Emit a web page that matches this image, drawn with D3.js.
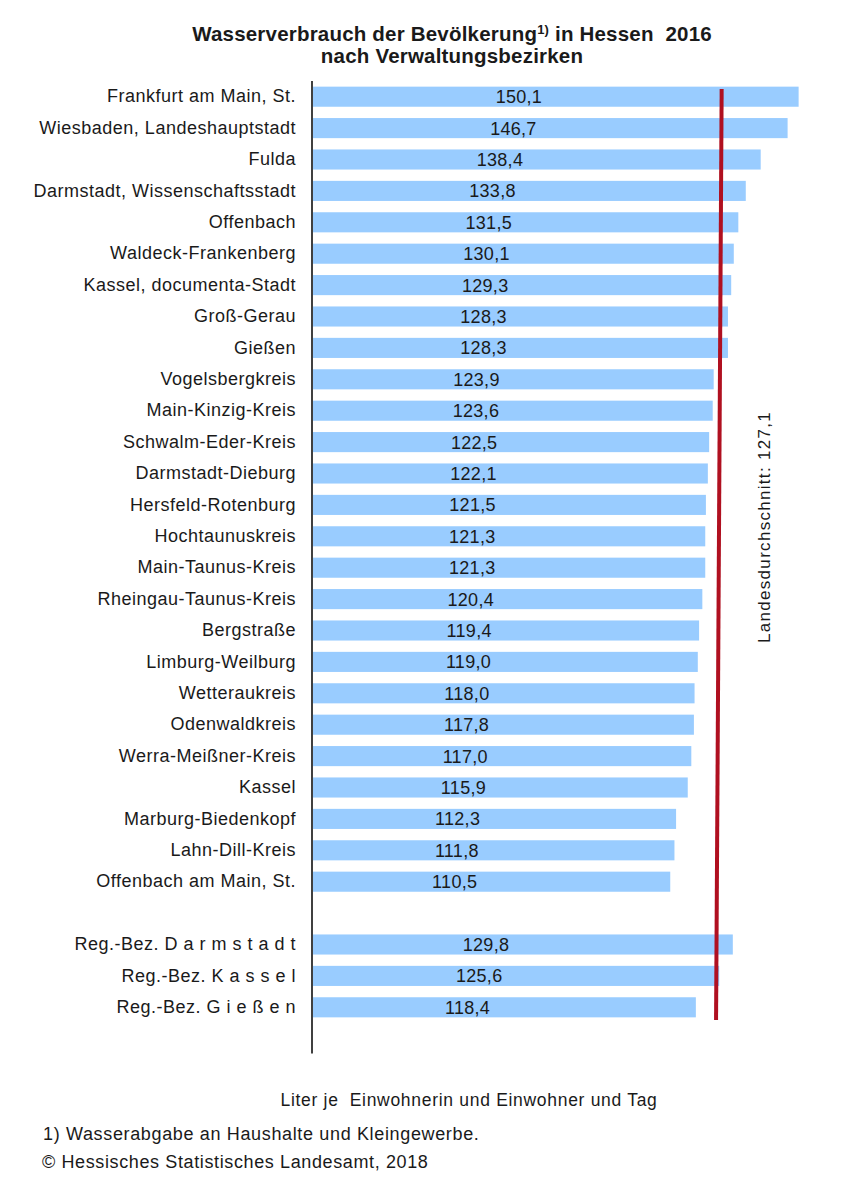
<!DOCTYPE html>
<html><head><meta charset="utf-8">
<script src="https://cdn.jsdelivr.net/npm/d3@7"></script>
<style>
html,body{margin:0;padding:0;background:#fff;}
svg{display:block;font-family:"Liberation Sans",Arial,sans-serif;}
svg text{white-space:pre;}
</style></head>
<body>
<svg id="chart" width="842" height="1200"></svg>
<script>
const districts = ["Frankfurt am Main, St.","Wiesbaden, Landeshauptstadt","Fulda","Darmstadt, Wissenschaftsstadt","Offenbach","Waldeck-Frankenberg","Kassel, documenta-Stadt","Groß-Gerau","Gießen","Vogelsbergkreis","Main-Kinzig-Kreis","Schwalm-Eder-Kreis","Darmstadt-Dieburg","Hersfeld-Rotenburg","Hochtaunuskreis","Main-Taunus-Kreis","Rheingau-Taunus-Kreis","Bergstraße","Limburg-Weilburg","Wetteraukreis","Odenwaldkreis","Werra-Meißner-Kreis","Kassel","Marburg-Biedenkopf","Lahn-Dill-Kreis","Offenbach am Main, St."];
const districtValues = [150.1,146.7,138.4,133.8,131.5,130.1,129.3,128.3,128.3,123.9,123.6,122.5,122.1,121.5,121.3,121.3,120.4,119.4,119.0,118.0,117.8,117.0,115.9,112.3,111.8,110.5];
const regions = ["Reg.-Bez. D a r m s t a d t","Reg.-Bez. K a s s e l","Reg.-Bez. G i e ß e n"];
const regionValues = [129.8,125.6,118.4];
const average = 127.1;
const averageLabel = "Landesdurchschnitt: 127,1";
const titleLine1 = "Wasserverbrauch der Bevölkerung";
const titleSup = "1)";
const titleLine1b = " in Hessen  2016";
const titleLine2 = "nach Verwaltungsbezirken";
const unitLabel = "Liter je  Einwohnerin und Einwohner und Tag";
const footnote = "1) Wasserabgabe an Haushalte und Kleingewerbe.";
const source = "© Hessisches Statistisches Landesamt, 2018";

// rows: districts, a gap, regions, trailing gap
const rows = [];
districts.forEach((c,i)=>rows.push({key:"d"+i,label:c,value:districtValues[i]}));
rows.push({key:"gap1",label:"",value:null});
regions.forEach((c,i)=>rows.push({key:"r"+i,label:c,value:regionValues[i]}));
rows.push({key:"gap2",label:"",value:null});

const de = d3.formatLocale({decimal:",",thousands:".",grouping:[3],currency:["","€"]});
const fmt = de.format(".1f");

const svg = d3.select("#chart");
const textColor = "#1a1a1a";

const x = d3.scaleLinear().domain([0,160]).range([312, 312+160*3.242]);
const y = d3.scaleBand().domain(rows.map(r=>r.key)).range([81,1054.4]).paddingInner(0.36).paddingOuter(0.18);

// bars
const data = rows.filter(r=>r.value!==null);
svg.append("g").selectAll("rect").data(data).join("rect")
  .attr("x", x(0)+1)
  .attr("y", d=>y(d.key))
  .attr("width", d=>x(d.value)-x(0)-1)
  .attr("height", y.bandwidth())
  .attr("fill", "#99ccff");

// value labels
svg.append("g").selectAll("text").data(data).join("text")
  .attr("x", d=>(x(0)+x(d.value))/2 - 36.4)
  .attr("y", d=>y(d.key)+y.bandwidth()/2)
  .attr("dy","0.36em")
  .attr("text-anchor","middle")
  .attr("font-size",18)
  .attr("letter-spacing","0.3px")
  .attr("fill",textColor)
  .text(d=>fmt(d.value));

// category axis
const axis = d3.axisLeft(y).tickSize(0).tickPadding(16)
  .tickValues(data.map(d=>d.key))
  .tickFormat(k=>rows.find(r=>r.key===k).label);
const ag = svg.append("g").attr("transform",`translate(${x(0)},0)`).call(axis);
ag.select(".domain").remove();
ag.selectAll("text").attr("font-size",18).attr("letter-spacing","0.5px")
  .attr("fill",textColor).attr("font-family","'Liberation Sans',Arial,sans-serif");

// axis line
svg.append("line")
  .attr("x1",x(0)).attr("x2",x(0))
  .attr("y1",y.range()[0]).attr("y2",y.range()[1]-1)
  .attr("stroke","#000").attr("stroke-width",1.5);

// average line
const xa = x(average);
svg.append("line")
  .attr("x1",xa-2.4).attr("y1",89)
  .attr("x2",xa-8).attr("y2",1020)
  .attr("stroke","#b01020").attr("stroke-width",4);

svg.append("text")
  .attr("transform",`translate(${xa+40},527) rotate(-90)`)
  .attr("text-anchor","middle").attr("dy","0.36em")
  .attr("font-size",17).attr("letter-spacing","1.3px")
  .attr("fill",textColor)
  .text(averageLabel);

// title
const t1 = svg.append("text").attr("x",452).attr("y",41).attr("text-anchor","middle")
  .attr("font-size",20.5).attr("letter-spacing","0.2px").attr("font-weight","bold").attr("fill",textColor);
t1.append("tspan").text(titleLine1);
t1.append("tspan").attr("font-size",13).attr("dy",-7).text(titleSup);
t1.append("tspan").attr("dy",7).text(titleLine1b);
svg.append("text").attr("x",452).attr("y",63).attr("text-anchor","middle")
  .attr("font-size",20.5).attr("letter-spacing","0.2px").attr("font-weight","bold").attr("fill",textColor)
  .text(titleLine2);

// footer
svg.append("text").attr("x",469).attr("y",1106).attr("text-anchor","middle")
  .attr("font-size",17.5).attr("letter-spacing","0.7px").attr("fill",textColor).text(unitLabel);
svg.append("text").attr("x",43).attr("y",1140)
  .attr("font-size",18).attr("letter-spacing","0.65px").attr("fill",textColor).text(footnote);
svg.append("text").attr("x",42).attr("y",1168)
  .attr("font-size",18).attr("letter-spacing","0.62px").attr("fill",textColor).text(source);
</script>
</body></html>
